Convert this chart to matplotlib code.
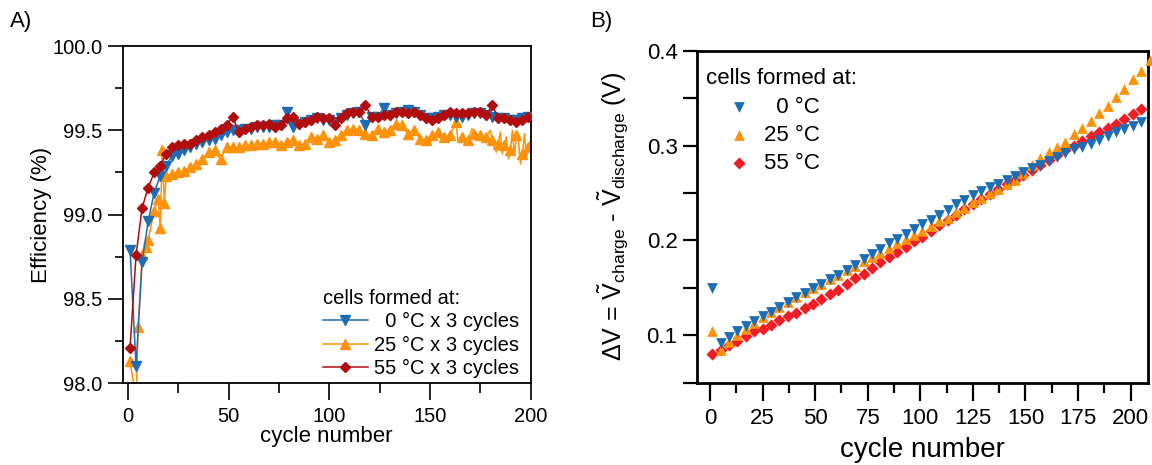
import numpy as np
import matplotlib
matplotlib.use("Agg")
import matplotlib.pyplot as plt
from matplotlib.ticker import MultipleLocator

plt.rcParams['font.family'] = ['Liberation Sans', 'DejaVu Sans']
plt.rcParams['mathtext.fontset'] = 'custom'
plt.rcParams['mathtext.rm'] = 'Liberation Sans'
plt.rcParams['mathtext.it'] = 'Liberation Sans:italic'

# ---------------- Panel A data (coulombic efficiency, %) ----------------
cyc_A = list(range(1, 200, 3))
eff_0C = [98.79, 98.10, 98.72, 98.96, 99.13, 99.23, 99.29, 99.35, 99.36, 99.38,
          99.40, 99.42, 99.43, 99.44, 99.45, 99.47, 99.49, 99.50, 99.50, 99.51,
          99.51, 99.52, 99.52, 99.52, 99.53, 99.53, 99.61, 99.52, 99.54, 99.55,
          99.56, 99.57, 99.56, 99.56, 99.55, 99.57, 99.59, 99.60, 99.61, 99.53,
          99.58, 99.58, 99.63, 99.59, 99.60, 99.61, 99.62, 99.61, 99.59, 99.57,
          99.57, 99.58, 99.59, 99.59, 99.58, 99.58, 99.59, 99.60, 99.60, 99.59,
          99.58, 99.57, 99.57, 99.56, 99.56, 99.57, 99.58]
eff_55C = [98.21, 98.76, 99.04, 99.16, 99.25, 99.29, 99.36, 99.40, 99.41, 99.42,
           99.42, 99.44, 99.46, 99.47, 99.49, 99.51, 99.53, 99.58, 99.49, 99.51,
           99.52, 99.53, 99.53, 99.54, 99.52, 99.53, 99.57, 99.58, 99.54, 99.55,
           99.56, 99.58, 99.57, 99.57, 99.53, 99.57, 99.60, 99.61, 99.61, 99.65,
           99.58, 99.58, 99.59, 99.59, 99.61, 99.61, 99.60, 99.61, 99.59, 99.57,
           99.56, 99.57, 99.59, 99.61, 99.60, 99.60, 99.60, 99.61, 99.61, 99.59,
           99.65, 99.57, 99.57, 99.56, 99.55, 99.56, 99.58]
eff_25C = [98.13, 97.90, 98.76, 98.85, 99.02, 98.92, 99.23, 99.24, 99.25, 99.26,
           99.28, 99.30, 99.33, 99.37, 99.38, 99.33, 99.40, 99.40, 99.40, 99.41,
           99.41, 99.42, 99.42, 99.43, 99.43, 99.41, 99.43, 99.44, 99.41, 99.42,
           99.46, 99.45, 99.47, 99.43, 99.44, 99.47, 99.50, 99.51, 99.50, 99.48,
           99.47, 99.51, 99.49, 99.50, 99.54, 99.53, 99.48, 99.50, 99.45, 99.44,
           99.47, 99.49, 99.46, 99.47, 99.55, 99.46, 99.44, 99.48, 99.47, 99.46,
           99.44, 99.42, 99.41, 99.38, 99.47, 99.36, 99.40]
# extra 25 degC cycles between symbols (noisy spikes)
cyc_25C_extra = [5, 9, 15, 17, 18, 150, 156, 164, 171, 176, 180, 183, 185, 186,
                 188, 189, 191, 192, 194, 195, 197, 198, 200]
eff_25C_extra = [98.33, 98.81, 99.09, 99.38, 99.07, 99.41, 99.44, 99.43, 99.51,
                 99.43, 99.50, 99.37, 99.49, 99.36, 99.46, 99.33, 99.50, 99.35,
                 99.44, 99.30, 99.48, 99.34, 99.44]

labels_A = ["  0 \u00b0C x 3 cycles", "25 \u00b0C x 3 cycles", "55 \u00b0C x 3 cycles"]

# ---------------- Panel B data (voltage hysteresis, V) ----------------
cyc_B = list(range(1, 206, 4))
cyc_B25 = list(range(1, 210, 4))
dV_0C = [0.150, 0.092, 0.098, 0.104, 0.110, 0.115, 0.120, 0.125, 0.130, 0.135,
         0.140, 0.145, 0.150, 0.154, 0.159, 0.164, 0.169, 0.174, 0.180, 0.186,
         0.191, 0.197, 0.202, 0.207, 0.212, 0.217, 0.222, 0.227, 0.232, 0.238,
         0.243, 0.248, 0.252, 0.256, 0.260, 0.264, 0.268, 0.272, 0.276, 0.280,
         0.284, 0.288, 0.292, 0.296, 0.299, 0.302, 0.306, 0.310, 0.314, 0.317,
         0.321, 0.325]
dV_25C = [0.105, 0.085, 0.093, 0.100, 0.107, 0.113, 0.119, 0.125, 0.130, 0.135,
          0.140, 0.146, 0.150, 0.154, 0.159, 0.164, 0.169, 0.173, 0.178, 0.183,
          0.187, 0.192, 0.197, 0.202, 0.206, 0.210, 0.215, 0.220, 0.224, 0.230,
          0.234, 0.240, 0.245, 0.250, 0.254, 0.259, 0.264, 0.271, 0.279, 0.287,
          0.293, 0.299, 0.304, 0.312, 0.319, 0.326, 0.334, 0.342, 0.351, 0.360,
          0.370, 0.379, 0.390]
dV_55C = [0.080, 0.085, 0.090, 0.094, 0.099, 0.104, 0.107, 0.111, 0.116, 0.120,
          0.124, 0.129, 0.133, 0.138, 0.143, 0.148, 0.154, 0.160, 0.165, 0.171,
          0.177, 0.182, 0.188, 0.193, 0.199, 0.204, 0.210, 0.216, 0.221, 0.227,
          0.233, 0.238, 0.244, 0.249, 0.254, 0.259, 0.264, 0.269, 0.274, 0.280,
          0.285, 0.290, 0.295, 0.300, 0.305, 0.310, 0.314, 0.318, 0.323, 0.328,
          0.333, 0.339]
labels_B = ["  0 \u00b0C", "25 \u00b0C", "55 \u00b0C"]

c_blue = "#1c6db4"
c_orange = "#ff9209"
c_dred = "#b20d0d"
c_red = "#f01d25"

fig = plt.figure(figsize=(11.52, 4.65), dpi=100)
W, H = 1152, 465

def fa(l, t, r, b):
    return [l / W, 1 - b / H, (r - l) / W, (b - t) / H]

# ---------------- Panel A ----------------
axA = fig.add_axes(fa(123, 46, 530.5, 383))
cyc_25_all = np.array(cyc_A + cyc_25C_extra)
eff_25_all = np.array(eff_25C + eff_25C_extra)
order = np.argsort(cyc_25_all, kind="stable")
cyc_25_all = cyc_25_all[order]
eff_25_all = eff_25_all[order]
mark25 = np.isin(cyc_25_all, cyc_A) | (cyc_25_all < 20)
mark25 &= ~((cyc_25_all == 150) | (cyc_25_all == 200))

lA0, = axA.plot(cyc_A, eff_0C, color=c_blue, lw=1.1, marker="v", ms=6.5,
                mec=c_blue, mfc=c_blue, zorder=3)
lA25, = axA.plot(cyc_25_all, eff_25_all, color=c_orange, lw=1.1, marker="^", ms=6.5,
                 markevery=list(np.where(mark25)[0]), zorder=2)
lA55, = axA.plot(cyc_A, eff_55C, color=c_dred, lw=1.1, marker="D", ms=5.2, zorder=4)

axA.set_xlim(-2.5, 200)
axA.set_ylim(98.0, 100.0)
axA.xaxis.set_major_locator(MultipleLocator(50))
axA.xaxis.set_minor_locator(MultipleLocator(25))
axA.yaxis.set_major_locator(MultipleLocator(0.5))
axA.yaxis.set_minor_locator(MultipleLocator(0.25))
axA.yaxis.set_major_formatter(matplotlib.ticker.FormatStrFormatter("%.1f"))
axA.tick_params(which="both", direction="out", top=False, right=False, width=1.2,
                labelsize=14.5)
axA.tick_params(which="major", length=11, pad=4)
axA.tick_params(which="minor", length=6)
axA.tick_params(axis="x", which="major", length=12, pad=5)
axA.tick_params(axis="x", which="minor", length=7)
for s in axA.spines.values():
    s.set_linewidth(1.3)
axA.set_xlabel("cycle number", fontsize=16, labelpad=0)
axA.set_ylabel("Efficiency (%)", fontsize=16, labelpad=0)

legA = axA.legend([lA0, lA25, lA55], labels_A, title="cells formed at:",
                  loc="upper left", bbox_to_anchor=(0.49, 0.28), frameon=False,
                  fontsize=14.5, title_fontsize=14.5, alignment="left",
                  handlelength=2.25, handletextpad=0.3, labelspacing=0.22,
                  borderpad=0, borderaxespad=0, numpoints=1)

fig.text(10 / W, 1 - 22 / H, "A)", fontsize=16, va="center", ha="left")

# ---------------- Panel B ----------------
axB = fig.add_axes(fa(697, 50.7, 1148.3, 382.7))
sB55 = axB.scatter(cyc_B, dV_55C, marker="D", s=38, color=c_red, linewidths=0,
                   zorder=2, clip_on=False)
sB25 = axB.scatter(cyc_B25, dV_25C, marker="^", s=60, color=c_orange, linewidths=0,
                   zorder=3, clip_on=False)
sB0 = axB.scatter(cyc_B, dV_0C, marker="v", s=60, color=c_blue, linewidths=0,
                  zorder=4, clip_on=False)
axB.set_xlim(-6.2, 208.4)
axB.set_ylim(0.05, 0.4)
axB.xaxis.set_major_locator(MultipleLocator(25))
axB.xaxis.set_minor_locator(MultipleLocator(12.5))
axB.yaxis.set_major_locator(MultipleLocator(0.1))
axB.yaxis.set_minor_locator(MultipleLocator(0.05))
axB.yaxis.set_major_formatter(matplotlib.ticker.FormatStrFormatter("%.1f"))
axB.tick_params(which="both", direction="out", top=False, right=False, width=1.6,
                labelsize=16)
axB.tick_params(axis="y", which="both", length=10, pad=4)
axB.tick_params(axis="x", which="major", length=13, pad=5)
axB.tick_params(axis="x", which="minor", length=7)
for s in axB.spines.values():
    s.set_linewidth(2.0)
axB.set_xlabel("cycle number", fontsize=20, labelpad=6)
axB.set_ylabel(r"$\Delta$V = $\tilde{\mathrm{V}}_{\mathrm{charge}}$ - "
               r"$\tilde{\mathrm{V}}_{\mathrm{discharge}}$ (V)", fontsize=18, labelpad=12)

legB = axB.legend([sB0, sB25, sB55], labels_B, title="cells formed at:",
                  loc="upper left", bbox_to_anchor=(0.02, 0.947), frameon=False,
                  fontsize=16, title_fontsize=16, alignment="left",
                  handlelength=3.0, handletextpad=-0.4, labelspacing=0.33,
                  borderpad=0, borderaxespad=0, scatterpoints=1)

fig.text(590 / W, 1 - 22 / H, "B)", fontsize=16, va="center", ha="left")

fig.savefig("out.png", dpi=100)
